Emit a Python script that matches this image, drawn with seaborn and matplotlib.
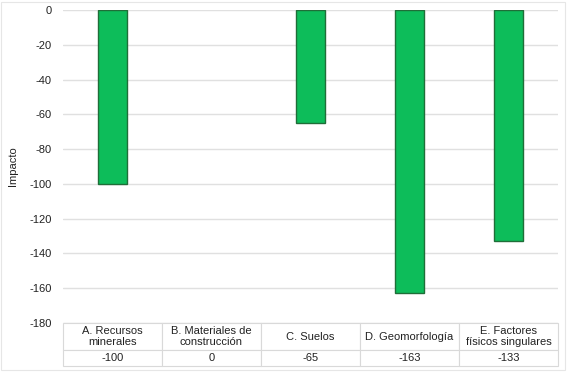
import matplotlib
matplotlib.use("Agg")
import matplotlib.pyplot as plt
import seaborn as sns
import pandas as pd

categories = ["A. Recursos\nminerales", "B. Materiales de\nconstrucción", "C. Suelos",
              "D. Geomorfología", "E. Factores\nfísicos singulares"]
values = [-100, 0, -65, -163, -133]
value_labels = ["-100", "0", "-65", "-163", "-133"]
yticks = [0, -20, -40, -60, -80, -100, -120, -140, -160, -180]

sns.set_theme(style="white")
plt.rcParams['font.family'] = ['Liberation Sans', 'DejaVu Sans']

df = pd.DataFrame({"cat": categories, "val": values})

fig = plt.figure(figsize=(5.67, 3.79), dpi=100)
ax = fig.add_axes([63/567, 1-323/379, (558-63)/567, (323-10)/379])

sns.barplot(data=df, x="cat", y="val", color="#0DBD5A", width=0.3,
            edgecolor="#1F6E38", linewidth=1.0, saturation=1, ax=ax, zorder=3)
for p in ax.patches:
    if p.get_height() == 0:
        p.set_visible(False)

ax.set_ylim(-180, 0)
ax.set_yticks(yticks)
ax.set_yticklabels([str(t) for t in yticks], fontsize=8, color="#222222")
ax.tick_params(axis="y", length=0, pad=8)
ax.set_xticks([])
ax.set_xlabel("")
ax.set_ylabel("Impacto", fontsize=8, color="#222222")
ax.yaxis.set_label_coords((18-63)/495, 0.5)
ax.set_xlim(-0.5, 4.5)
for s in ax.spines.values():
    s.set_visible(False)
ax.yaxis.grid(True, color="#E0E0E0", linewidth=1.0, zorder=0)
ax.set_axisbelow(True)

tbl = ax.table(cellText=[value_labels], colLabels=categories, cellLoc="center",
               bbox=[0, -43/313, 1, 43/313])
tbl.auto_set_font_size(False)
tbl.set_fontsize(8)
for (r, c), cell in tbl.get_celld().items():
    cell.set_edgecolor("#D9D9D9")
    cell.set_linewidth(0.8)
    cell.get_text().set_color("#222222")
    if r == 0:
        cell.set_height(27/313)
    else:
        cell.set_height(16/313)

fig.patches.append(plt.Rectangle((0.002, 0.025), 0.994, 0.97, transform=fig.transFigure,
                                 fill=False, edgecolor="#E6E6E6", linewidth=0.8))
fig.savefig("out.png", dpi=100)
